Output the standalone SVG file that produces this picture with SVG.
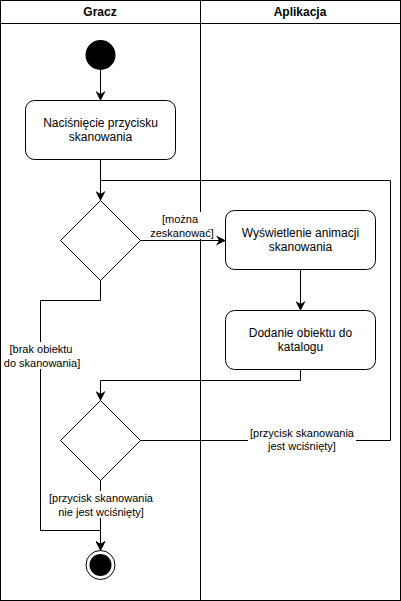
<svg xmlns="http://www.w3.org/2000/svg" width="401" height="601" viewBox="0 0 401 601">
<defs>
<marker id="arr" viewBox="0 0 10 10" refX="9" refY="5" markerWidth="10" markerHeight="10" markerUnits="userSpaceOnUse" orient="auto">
<path d="M0,0 L10,5 L0,10 L3,5 Z" fill="#000"/>
</marker>
</defs>
<style>
.lane{fill:none;stroke:#000;stroke-width:1}
.hdr{font-family:"Liberation Sans",Arial,sans-serif;font-size:12px;font-weight:bold;text-anchor:middle;fill:#000}
.act{fill:#fff;stroke:#000;stroke-width:1}
.t{font-family:"Liberation Sans",Arial,sans-serif;font-size:12px;text-anchor:middle;fill:#000}
.lbl{font-family:"Liberation Sans",Arial,sans-serif;font-size:11px;text-anchor:middle;fill:#000}
.c{fill:none;stroke:#000;stroke-width:1}
.bg{fill:#fff}
</style>
<rect width="401" height="601" fill="#fff"/>
<g id="lanes">
<rect class="lane" x="0.5" y="0.5" width="400" height="600"/>
<line class="lane" x1="0" y1="23.5" x2="401" y2="23.5"/>
<line class="lane" x1="200.5" y1="0" x2="200.5" y2="601"/>
<text class="hdr" x="100" y="16">Gracz</text>
<text class="hdr" x="300" y="16">Aplikacja</text>
</g>
<g id="connectors">
<rect class="bg" x="150" y="212" width="64" height="27"/>
<path class="c" d="M100.5,70 V100" marker-end="url(#arr)"/>
<path class="c" d="M100.5,160 V200" marker-end="url(#arr)"/>
<path class="c" d="M140,240.5 H225" marker-end="url(#arr)"/>
<path class="c" d="M300.5,270 V310" marker-end="url(#arr)"/>
<path class="c" d="M300.5,370 V380.5 H100.5 V400" marker-end="url(#arr)"/>
<path class="c" d="M140,440.5 H390.5 V180.5 H100.5 V200"/>
<path class="c" d="M100.5,280 V300.5 H40.5 V530.5 H100.5 V550" marker-end="url(#arr)"/>
<path class="c" d="M100.5,480 V550" marker-end="url(#arr)"/>
<rect class="bg" x="248" y="426" width="108" height="26"/>
<text class="lbl" x="302" y="437">[przycisk skanowania</text>
<text class="lbl" x="302" y="450">jest wciśnięty]</text>
<text class="lbl" x="180" y="223">[można</text>
<text class="lbl" x="182" y="237">zeskanować]</text>
<rect class="bg" x="2" y="342" width="79" height="27"/>
<text class="lbl" x="41" y="353">[brak obiektu</text>
<text class="lbl" x="42" y="367">do skanowania]</text>
<rect class="bg" x="48" y="491" width="105" height="27"/>
<text class="lbl" x="101" y="502">[przycisk skanowania</text>
<text class="lbl" x="101" y="516">nie jest wciśnięty]</text>
</g>
<g id="start"><circle cx="100.5" cy="55" r="15" fill="#000"/></g>
<g id="act1">
<rect class="act" x="25.5" y="100.5" width="150" height="59" rx="9"/>
<text class="t" x="100.5" y="127">Naciśnięcie przycisku</text>
<text class="t" x="100.5" y="141">skanowania</text>
</g>
<g id="dec1"><polygon class="act" points="100.5,200.5 140.5,240.5 100.5,280.5 60.5,240.5"/></g>
<g id="act2">
<rect class="act" x="225.5" y="210.5" width="150" height="59" rx="9"/>
<text class="t" x="300.5" y="237">Wyświetlenie animacji</text>
<text class="t" x="300.5" y="251">skanowania</text>
</g>
<g id="act3">
<rect class="act" x="225.5" y="310.5" width="150" height="59" rx="9"/>
<text class="t" x="300.5" y="337">Dodanie obiektu do</text>
<text class="t" x="300.5" y="351">katalogu</text>
</g>
<g id="dec2"><polygon class="act" points="100.5,400.5 140.5,440.5 100.5,480.5 60.5,440.5"/></g>
<g id="end">
<circle cx="100.5" cy="565" r="14.5" fill="#fff" stroke="#000" stroke-width="1"/>
<circle cx="100.5" cy="565" r="11" fill="#000"/>
</g>
</svg>
